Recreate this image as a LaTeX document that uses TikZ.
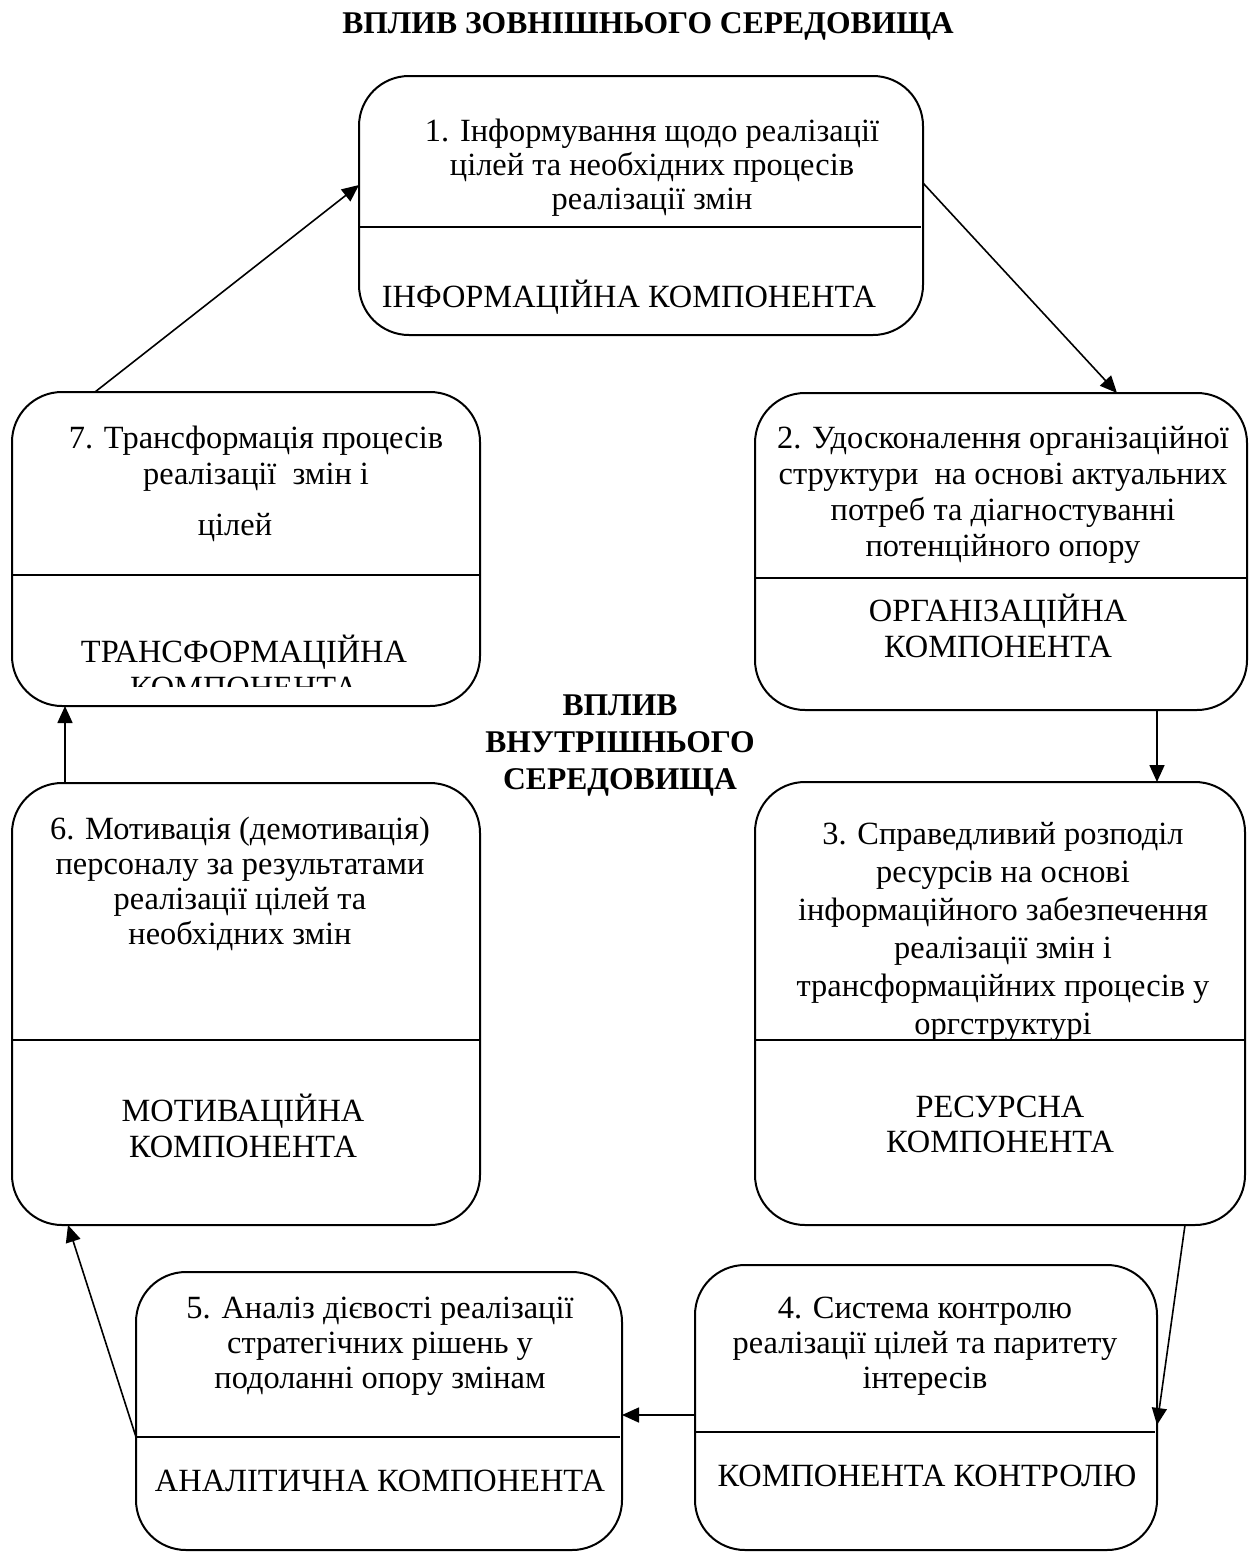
\documentclass[tikz,border=0pt]{standalone}
\usepackage{fontspec}
\setmainfont{Liberation Serif}
\usetikzlibrary{arrows.meta,calc}
\begin{document}
\begin{tikzpicture}[x=0.5pt,y=-0.5pt,
  box/.style={draw,line width=1pt,rounded corners=25pt,inner sep=0pt,outer sep=0pt},
  txt/.style={align=center,inner sep=0pt,font=\fontsize{16.2}{#1}\selectfont},
  txt/.default=17.5,
  ttl/.style={align=center,inner sep=0pt,font=\fontsize{15.8}{#1}\selectfont\bfseries},
  ttl/.default=18.5,
  divline/.style={line width=1pt},
  conn/.style={line width=0.8pt,-{Triangle[length=8.5pt,width=7.5pt]}}]
\useasboundingbox (0,0) rectangle (1249,1553);

% boxes
\node[box,minimum width=282pt,minimum height=129.5pt] (b1) at (641,205.5) {};
\node[box,minimum width=246pt,minimum height=158.5pt] (b2) at (1001,551.5) {};
\node[box,minimum width=245pt,minimum height=221.5pt] (b3) at (1000,1003.5) {};
\node[box,minimum width=231pt,minimum height=142.5pt] (b4) at (926,1407.5) {};
\node[box,minimum width=243pt,minimum height=139pt] (b5) at (379,1411) {};
\node[box,minimum width=234pt,minimum height=221pt] (b6) at (246,1004) {};
\node[box,minimum width=234pt,minimum height=157pt] (b7) at (246,549) {};

% dividers
\draw[divline] ($(b1.north west)+(0,151)$) -- ($(b1.north east)+(-2,151)$);
\draw[divline] ($(b2.north west)+(0,185)$) -- ($(b2.north east)+(0,185)$);
\draw[divline] ($(b3.north west)+(0,258)$) -- ($(b3.north east)+(0,258)$);
\draw[divline] ($(b4.north west)+(0,167)$) -- ($(b4.north east)+(-2,167)$);
\draw[divline] ($(b5.north west)+(0,165)$) -- ($(b5.north east)+(-2,165)$);
\draw[divline] ($(b6.north west)+(0,257)$) -- ($(b6.north east)+(0,257)$);
\draw[divline] ($(b7.north west)+(0,183)$) -- ($(b7.north east)+(0,183)$);

% titles
\node[ttl] (t0) at (648,26) {ВПЛИВ ЗОВНІШНЬОГО СЕРЕДОВИЩА};
\node[ttl] (tc) at (620,746) {ВПЛИВ\\ВНУТРІШНЬОГО\\СЕРЕДОВИЩА};

% box texts
\node[txt=17] (x1) at (652,168) {1. Інформування щодо реалізації\\цілей та необхідних процесів\\реалізації змін};
\node[txt] (c1) at (629,297) {ІНФОРМАЦІЙНА КОМПОНЕНТА};

\node[txt=18] (x2) at (1003,495) {2. Удосконалення організаційної\\структури\ \ на основі актуальних\\потреб та діагностуванні\\потенційного опору};
\node[txt=18] (c2) at (998,626) {ОРГАНІЗАЦІЙНА\\КОМПОНЕНТА};

\node[txt=19] (x3) at (1003,932) {3. Справедливий розподіл\\ресурсів на основі\\інформаційного забезпечення\\реалізації змін і\\трансформаційних процесів у\\оргструктурі};
\node[txt=17.5] (c3) at (1000,1124) {РЕСУРСНА\\КОМПОНЕНТА};

\node[txt] (x4) at (925,1346) {4. Система контролю\\реалізації цілей та паритету\\інтересів};
\node[txt] (c4) at (927,1476) {КОМПОНЕНТА КОНТРОЛЮ};

\node[txt] (x5) at (380,1346) {5. Аналіз дієвості реалізації\\стратегічних рішень у\\подоланні опору змінам};
\node[txt] (c5) at (380,1481) {АНАЛІТИЧНА КОМПОНЕНТА};

\node[txt] (x6) at (240,884) {6. Мотивація (демотивація)\\персоналу за результатами\\реалізації цілей та\\необхідних змін};
\node[txt=18] (c6) at (243,1126) {МОТИВАЦІЙНА\\КОМПОНЕНТА};

\node[txt=18] (x7) at (256,459) {7. Трансформація процесів\\реалізації\ \ змін і};
\node[txt] (y7) at (235,528) {цілей};
\begin{scope}
  \clip (12,580) rectangle (480,686);
  \node[txt=18] (c7) at (244,667) {ТРАНСФОРМАЦІЙНА\\КОМПОНЕНТА};
\end{scope}

% connectors
\draw[conn] ($(b7.north west)+(83,0)$) -- ($(b1.north west)+(0,109)$);
\draw[conn] ($(b1.north east)+(0,107)$) -- ($(b2.north west)+(362,0)$);
\draw[conn] ($(b2.south west)+(402,0)$) -- ($(b3.north west)+(402,0)$);
\draw[conn] ($(b3.south west)+(430,0)$) -- ($(b4.north east)+(0,160)$);
\draw[conn] ($(b4.north west)+(0,150)$) -- ($(b5.north east)+(0,143)$);
\draw[conn] ($(b5.north west)+(0,165)$) -- ($(b6.south west)+(56,0)$);
\draw[conn] ($(b6.north west)+(53,0)$) -- ($(b7.south west)+(53,0)$);
\end{tikzpicture}
\end{document}
